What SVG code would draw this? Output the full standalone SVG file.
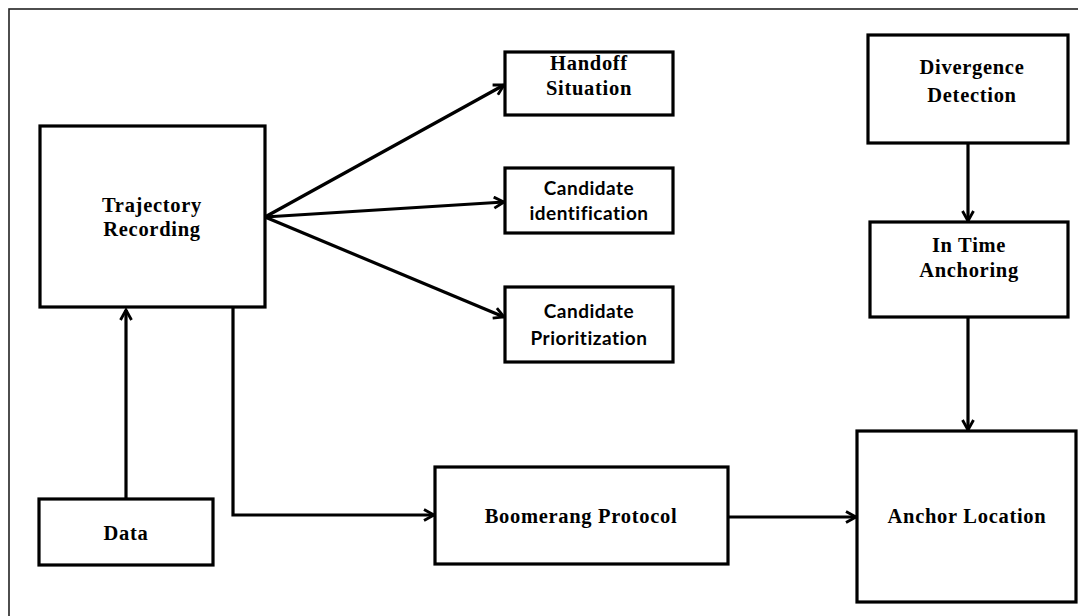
<svg xmlns="http://www.w3.org/2000/svg" width="1078" height="616" viewBox="0 0 1078 616">
<style>
.box{fill:#fff;stroke:#000;stroke-width:3.2}
.serif{font-family:"Liberation Serif","Times New Roman",serif;font-weight:bold;font-size:20.5px;fill:#000;text-anchor:middle;letter-spacing:0.7px}
.sans{font-family:Lato,"Liberation Sans",sans-serif;font-weight:bold;font-size:19px;fill:#000;text-anchor:middle;letter-spacing:0.5px}
.conn{fill:none;stroke:#000;stroke-width:3.2}
</style>
<defs>
<marker id="arr" markerUnits="userSpaceOnUse" viewBox="0 0 14 14" markerWidth="14" markerHeight="14" refX="12" refY="7" orient="auto">
<path d="M2,1.5 L12,7 L2,12.5" fill="none" stroke="#000" stroke-width="2.8"/>
</marker>
</defs>
<rect x="0" y="0" width="1078" height="616" fill="#fff"/>
<rect x="9" y="9" width="1100" height="700" fill="none" stroke="#222" stroke-width="1.6"/>
<g id="connectors">
<line class="conn" x1="126" y1="499" x2="126" y2="310" marker-end="url(#arr)"/>
<path class="conn" d="M233,307 V515 H434" marker-end="url(#arr)"/>
<line class="conn" x1="265" y1="217" x2="504" y2="85" marker-end="url(#arr)"/>
<line class="conn" x1="265" y1="217" x2="504" y2="202" marker-end="url(#arr)"/>
<line class="conn" x1="265" y1="217" x2="504" y2="317" marker-end="url(#arr)"/>
<line class="conn" x1="968" y1="143" x2="968" y2="221" marker-end="url(#arr)"/>
<line class="conn" x1="968" y1="317" x2="968" y2="430" marker-end="url(#arr)"/>
<line class="conn" x1="728" y1="517" x2="856" y2="517" marker-end="url(#arr)"/>
</g>
<g id="trajectory">
<rect class="box" x="40" y="126" width="225" height="181"/>
<text class="serif" x="152" y="212">Trajectory</text>
<text class="serif" x="152" y="236">Recording</text>
</g>
<g id="handoff">
<rect class="box" x="505" y="52" width="168" height="63"/>
<text class="serif" x="589" y="70">Handoff</text>
<text class="serif" x="589" y="95">Situation</text>
</g>
<g id="candidate-identification">
<rect class="box" x="505" y="168" width="168" height="65"/>
<text class="sans" x="589" y="195">Candidate</text>
<text class="sans" x="589" y="220">identification</text>
</g>
<g id="candidate-prioritization">
<rect class="box" x="505" y="287" width="168" height="75"/>
<text class="sans" x="589" y="318">Candidate</text>
<text class="sans" x="589" y="345">Prioritization</text>
</g>
<g id="divergence">
<rect class="box" x="868" y="35" width="200" height="108"/>
<text class="serif" x="972" y="74">Divergence</text>
<text class="serif" x="972" y="102">Detection</text>
</g>
<g id="in-time">
<rect class="box" x="870" y="222" width="198" height="95"/>
<text class="serif" x="969" y="252">In Time</text>
<text class="serif" x="969" y="277">Anchoring</text>
</g>
<g id="anchor-location">
<rect class="box" x="857" y="431" width="219" height="171"/>
<text class="serif" x="967" y="523">Anchor Location</text>
</g>
<g id="boomerang">
<rect class="box" x="435" y="467" width="293" height="97"/>
<text class="serif" x="581" y="523">Boomerang Protocol</text>
</g>
<g id="data">
<rect class="box" x="39" y="499" width="174" height="66"/>
<text class="serif" x="126" y="540">Data</text>
</g>
</svg>
